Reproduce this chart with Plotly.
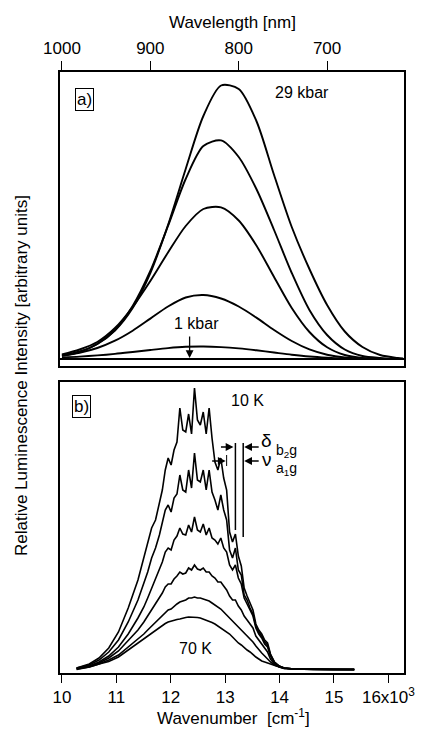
import plotly.graph_objects as go

# ---------------- Panel a: pressure dependence (wavelength axis) ----------------
wavelength_nm = [1000, 980, 960, 940, 920, 900, 880, 860, 840, 820, 800, 780, 760,
                 740, 720, 700, 680, 660, 640, 620, 614]
a_29kbar = [3.6, 7.5, 15, 28.5, 51, 86, 134, 190, 243, 273.5, 270, 238, 184, 132, 90, 54, 27.5, 12, 4, 1, 0.5]
a_p4 = [3.2, 7, 15, 29, 53, 88, 133, 180, 213, 218.6, 202, 170, 129, 86, 49, 24, 9.5, 3, 1, 0, 0]
a_p3 = [4.5, 9.5, 17, 31, 52, 78, 106.5, 133, 150, 151.6, 138.5, 113.5, 82, 51, 27, 11.7, 4, 1, 0, 0, 0]
a_p2 = [3.4, 6.3, 11, 18.3, 28.3, 40.4, 52.5, 61.5, 64, 60.5, 52.5, 41.4, 29, 18, 9.6, 4.3, 1.5, 0.5, 0, 0, 0]
a_1kbar = [1.5, 2.4, 3.6, 5.1, 7, 9, 10.9, 12.2, 12.5, 11.9, 10.6, 8.7, 6.5, 4.3, 2.5, 1.3, 0.5, 0, 0, 0, 0]
panel_a_series = [a_29kbar, a_p4, a_p3, a_p2, a_1kbar]

# ---------------- Panel b: temperature dependence (wavenumber, x10^3 cm^-1) ----------------
wavenumber_k = [10.269, 10.502, 10.681, 10.860, 11.039, 11.218, 11.397, 11.505, 11.576, 11.648,
                11.720, 11.791, 11.845, 11.899, 11.952, 12.006, 12.060, 12.114, 12.167, 12.221,
                12.275, 12.328, 12.382, 12.436, 12.490, 12.543, 12.597, 12.651, 12.705, 12.758,
                12.812, 12.866, 12.920, 12.973, 13.027, 13.081, 13.135, 13.188, 13.242, 13.296,
                13.349, 13.403, 13.457, 13.511, 13.564, 13.618, 13.672, 13.726, 13.779, 13.833,
                13.905, 13.994, 14.084, 14.263, 14.621, 14.979, 15.373]
b_10K = [2, 6, 12, 22, 38, 62, 90, 112, 128, 142, 150, 166, 180, 200, 212, 205, 220, 228, 262, 240,
         238, 256, 236, 282, 250, 245, 258, 236, 262, 232, 208, 200, 212, 192, 180, 138, 128, 136, 114, 104,
         82, 74, 66, 60, 46, 40, 36, 30, 27, 16, 8, 4, 2, 1, 1, 1, 1]
b_T2 = [2, 5, 10, 18, 30, 48, 70, 86, 98, 112, 122, 135, 148, 160, 165, 158, 172, 176, 195, 180,
        178, 200, 182, 217, 190, 188, 200, 180, 200, 178, 170, 160, 175, 160, 150, 120, 112, 122, 100, 95,
        75, 70, 62, 56, 44, 38, 34, 28, 25, 15, 8, 4, 2, 1, 1, 0.5, 0.5]
b_T3 = [1.5, 4, 8, 14, 23, 36, 52, 63, 72, 82, 90, 100, 108, 118, 122, 120, 130, 134, 142, 136,
        135, 145, 138, 153, 140, 138, 146, 135, 142, 132, 130, 126, 132, 122, 118, 105, 100, 105, 92, 86,
        72, 66, 60, 54, 42, 36, 32, 26, 23, 14, 7, 3.5, 2, 1, 0.5, 0.5, 0.5]
b_T4 = [1.5, 3.5, 7, 12, 19, 29, 40, 48, 54, 60, 66, 72, 77, 83, 86, 86, 91, 94, 98, 96,
        97, 102, 100, 105, 101, 100, 102, 98, 98, 94, 92, 88, 88, 84, 80, 74, 70, 70, 64, 60,
        54, 50, 46, 42, 34, 30, 26, 21, 18, 11, 6, 3, 1.5, 1, 0.5, 0.5, 0.5]
b_T5 = [1, 3, 6, 10, 15, 23, 31, 36, 40, 44, 48, 52, 55, 58, 60, 61, 64, 66, 68, 69,
        70, 72, 72, 73, 72, 72, 71, 70, 69, 67, 65, 63, 61, 58, 55, 52, 49, 47, 44, 41,
        37, 34, 31, 28, 24, 20, 17, 14, 11, 8, 5, 3, 1.5, 1, 0.5, 0.3, 0.3]
b_70K = [0.5, 3, 6, 8.5, 13, 20, 27, 31, 34, 37, 40, 43, 45, 46.5, 48, 49, 50, 50.5, 51, 52,
         52.5, 53, 53, 53, 52.5, 52, 51, 50, 49, 47.5, 46, 44, 42, 40, 38, 36, 33, 30, 27, 25,
         22, 20, 18, 15, 13, 11, 9, 8, 7, 5.5, 4, 3, 2, 1, 0.5, 0.3, 0.3]
panel_b_series = [b_10K, b_T2, b_T3, b_T4, b_T5, b_70K]

top_tick_vals = [1000, 900, 800, 700]
bottom_tick_vals = [10, 11, 12, 13, 14, 15, 16]
bottom_tick_text = ["10", "11", "12", "13", "14", "15", "16x10<sup>3</sup>"]

W, H = 427, 730
ML, MT = 60, 72
MR = W - 413
MB = H - 673
PW, PH = W - ML - MR, H - MT - MB


def px(x):  # page pixel -> paper fraction
    return (x - ML) / PW


def py(y):
    return (H - MB - y) / PH


FONT = "Liberation Sans, Arial, Helvetica, sans-serif"
fig = go.Figure()

for s in panel_a_series:
    fig.add_trace(go.Scatter(x=wavelength_nm, y=s, xaxis="x2", yaxis="y2", mode="lines",
                             line=dict(color="black", width=1.9, shape="spline", smoothing=0.8),
                             showlegend=False, hoverinfo="skip"))

for s in panel_b_series:
    fig.add_trace(go.Scatter(x=wavenumber_k, y=s, xaxis="x", yaxis="y", mode="lines",
                             line=dict(color="black", width=1.6),
                             showlegend=False, hoverinfo="skip"))

dom_b = [0, py(382)]
dom_a = [py(366), 1]

axis_common = dict(showgrid=False, zeroline=False, showline=True, linecolor="black",
                   linewidth=1.5, mirror=True)

fig.update_layout(
    width=W, height=H,
    margin=dict(l=ML, r=MR, t=MT, b=MB, pad=0),
    paper_bgcolor="white", plot_bgcolor="white",
    font=dict(family=FONT, color="black", size=17),
    xaxis=dict(domain=[0, 1], anchor="y", range=[9.964, 16.287], tickvals=bottom_tick_vals,
               ticktext=bottom_tick_text, ticks="outside", ticklen=8, tickwidth=1.2,
               tickcolor="black", tickfont=dict(size=17), ticklabeloverflow="allow",
               **axis_common),
    yaxis=dict(domain=dom_b, anchor="x", range=[-3, 288], showticklabels=False, ticks="",
               **axis_common),
    xaxis2=dict(domain=[0, 1], anchor="y2", side="top", range=[1002.2, 613.0],
                tickvals=top_tick_vals, ticks="outside", ticklen=9, tickwidth=1.2,
                tickcolor="black", tickfont=dict(size=17), **axis_common),
    yaxis2=dict(domain=dom_a, anchor="x2", range=[-7, 287], showticklabels=False, ticks="",
                showgrid=False, showline=True, linecolor="black", linewidth=1.5, mirror=True,
                zeroline=True, zerolinecolor="black", zerolinewidth=1.5),
    xaxis3=dict(overlaying="x2", anchor="y2", side="bottom", range=[9.964, 16.287],
                tickvals=bottom_tick_vals, showticklabels=False, ticks="outside", ticklen=8,
                tickwidth=1.2, tickcolor="black", showgrid=False, zeroline=False, showline=False),
)

ann = []


def text(x, y, t, size=17, **kw):
    d = dict(x=px(x), y=py(y), xref="paper", yref="paper", text=t, showarrow=False,
             font=dict(size=size, family=FONT, color="black"), xanchor="center", yanchor="middle")
    d.update(kw)
    ann.append(d)


text(237, 22, "Wavelength [nm]", 17)
text(238, 717, "Wavenumber  [cm<sup>-1</sup>]", 17)
text(20, 376, "Relative Luminescence Intensity [arbitrary units]", 17, textangle=-90)
text(85, 99.5, "a)", 17, bordercolor="black", borderwidth=1, borderpad=1)
text(82.5, 407, "b)", 17, bordercolor="black", borderwidth=1, borderpad=1)
text(308, 93, "29 kbar", 16)
text(200, 323, "1 kbar", 16)
text(252, 400, "10 K", 16)
text(199, 648, "70 K", 16)
text(272, 440, "δ", 19)
text(292, 451, "b<sub>2</sub>g", 14)
text(272, 459, "ν", 19)
text(292, 469, "a<sub>1</sub>g", 14)


def arrow(tipx, tipy, tailx, taily, head=2):
    ann.append(dict(x=px(tipx), y=py(tipy), xref="paper", yref="paper", text="",
                    showarrow=True, arrowhead=head, arrowsize=1.2, arrowwidth=1.3,
                    arrowcolor="black", ax=tailx - tipx, ay=taily - tipy))


arrow(193, 358, 193, 335)
arrow(238, 447, 224, 447)
arrow(249, 447, 265, 447)
arrow(230, 461, 215, 461)
arrow(249, 461, 265, 461)

shapes = []


def vline(x, y0, y1, w=1.5):
    shapes.append(dict(type="line", xref="paper", yref="paper", x0=px(x), x1=px(x),
                       y0=py(y0), y1=py(y1), line=dict(color="black", width=w)))


vline(240, 443, 530)
vline(248, 443, 537)
vline(231, 455, 466, 1)

fig.update_layout(annotations=ann, shapes=shapes)
fig.write_html("out.html", config={"displayModeBar": False},
               post_script="document.body.style.margin='0';document.body.style.overflow='hidden';")
